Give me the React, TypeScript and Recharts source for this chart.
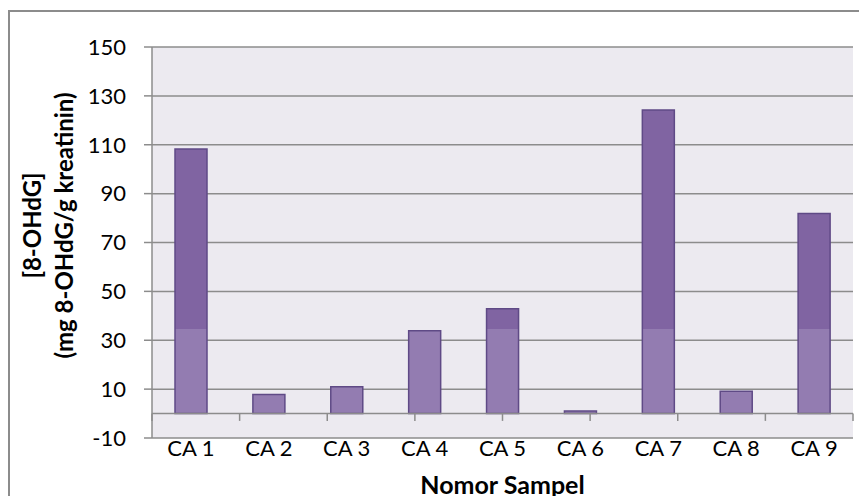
import { Bar, BarChart, CartesianGrid, Label, ReferenceLine, XAxis, YAxis } from "recharts";

const categories = ["CA 1", "CA 2", "CA 3", "CA 4", "CA 5", "CA 6", "CA 7", "CA 8", "CA 9"];
const ohdgValues = [108.3, 7.8, 11.0, 33.9, 42.9, 1.0, 124.2, 9.1, 81.9];
const yTicks = [-10, 10, 30, 50, 70, 90, 110, 130, 150];

const data = categories.map((name, i) => ({ name, value: ohdgValues[i] }));
// category boundaries (0..9) for the little tick marks on the zero line
const edges = [0, ...categories.map((_, i) => i + 1)];

const font = "Lato, 'Open Sans', sans-serif";
const grey = "#8c8c8c";

function YTitle(props: any) {
  const vb = props.viewBox;
  const cy = vb.y + vb.height / 2 - 17;
  const common = {
    textAnchor: "middle" as const,
    fontFamily: font,
    fontWeight: 700,
    fontSize: 24,
    fill: "#000",
  };
  return (
    <g>
      <text {...common} transform={`translate(${vb.x - 61},${cy}) rotate(-90)`}>
        [8-OHdG]
      </text>
      <text {...common} transform={`translate(${vb.x - 29},${cy}) rotate(-90)`}>
        (mg 8-OHdG/g kreatinin)
      </text>
    </g>
  );
}

export default function App() {
  return (
    <div
      style={{
        marginTop: 2,
        width: 859,
        height: 486,
        borderLeft: `2px solid ${grey}`,
        borderTop: `2px solid ${grey}`,
        boxSizing: "border-box",
        background: "#fff",
      }}
    >
      <BarChart
        width={857}
        height={491}
        data={data}
        margin={{ top: 35, right: 14, left: 92, bottom: 7 }}
        barSize={32}
      >
        <defs>
          <linearGradient id="barFill" gradientUnits="userSpaceOnUse" x1="0" y1="0" x2="0" y2="484">
            <stop offset="0.655" stopColor="#8064a2" />
            <stop offset="0.655" stopColor="#937cb1" />
          </linearGradient>
        </defs>
        <CartesianGrid
          horizontal
          vertical={false}
          fill="#eceaf0"
          fillOpacity={1}
          stroke={grey}
          strokeWidth={1.5}
        />
        <XAxis
          dataKey="name"
          height={58}
          axisLine={false}
          tickLine={false}
          tickSize={0}
          tickMargin={2}
          interval={0}
          tick={{ fill: "#000", fontFamily: font, fontSize: 22 }}
        >
          <Label
            value="Nomor Sampel"
            position="insideBottom"
            offset={2}
            style={{ fill: "#000", fontFamily: font, fontWeight: 700, fontSize: 25 }}
          />
        </XAxis>
        <XAxis xAxisId="edge" type="number" domain={[0, categories.length]} hide />
        <YAxis
          width={50}
          domain={[-10, 150]}
          ticks={yTicks}
          interval={0}
          axisLine={{ stroke: grey, strokeWidth: 1.5 }}
          tickLine={{ stroke: grey, strokeWidth: 1.5 }}
          tickSize={8}
          tickMargin={18}
          tick={{ fill: "#000", fontFamily: font, fontSize: 22 }}
          label={<YTitle />}
        />
        <ReferenceLine y={0} stroke={grey} strokeWidth={1.5} />
        {edges.map((e) => (
          <ReferenceLine
            key={e}
            xAxisId="edge"
            segment={[
              { x: e, y: 0 },
              { x: e, y: -3 },
            ]}
            stroke={grey}
            strokeWidth={1.5}
          />
        ))}
        <Bar
          dataKey="value"
          fill="url(#barFill)"
          stroke="#5f4a86"
          strokeWidth={1.5}
          isAnimationActive={false}
        />
      </BarChart>
    </div>
  );
}
